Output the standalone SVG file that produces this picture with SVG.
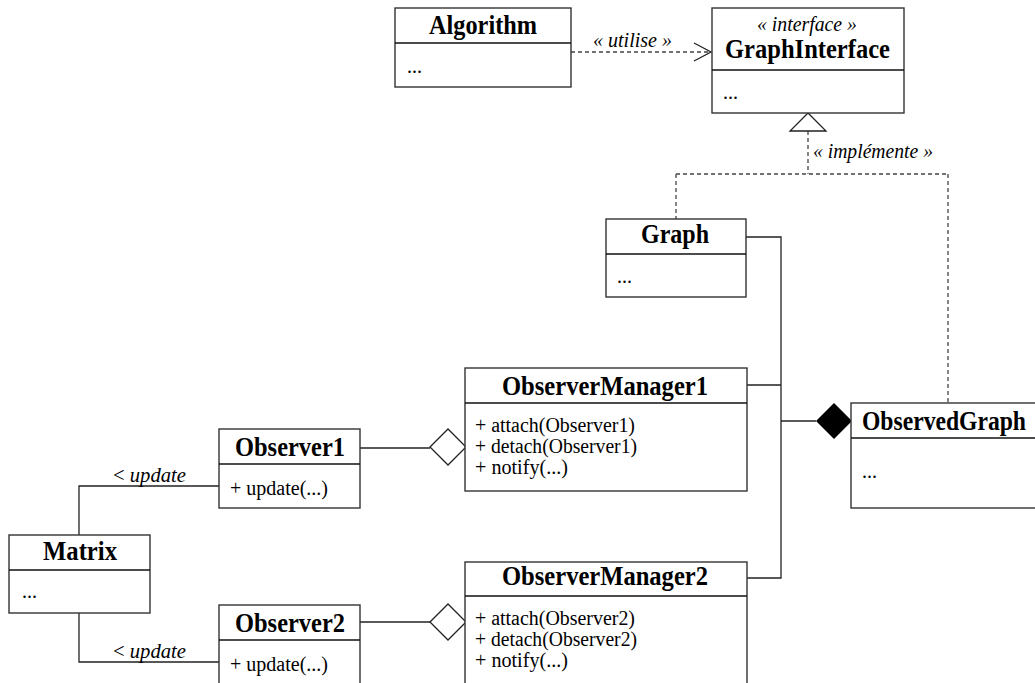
<svg xmlns="http://www.w3.org/2000/svg" width="1035" height="683" viewBox="0 0 1035 683">
<defs>
<style>
.box{fill:#fff;stroke:#333;stroke-width:1.4}
.div{stroke:#111;stroke-width:1.4}
.ln{fill:none;stroke:#222;stroke-width:1.3}
.dash{fill:none;stroke:#444;stroke-width:1.3;stroke-dasharray:4 3}
.t{font-family:"Liberation Serif","Times New Roman",serif;font-weight:bold;font-size:27px;fill:#000}
.m{font-family:"Liberation Serif","Times New Roman",serif;font-size:20px;fill:#000}
.i{font-family:"Liberation Serif","Times New Roman",serif;font-style:italic;font-size:20px;fill:#000}
</style>
</defs>
<rect width="1035" height="683" fill="#fff"/>
<g id="connectors">
<path class="dash" d="M571 52 H711"/>
<path class="ln" d="M694 43 L711 52 L694 61"/>
<text class="i" x="593" y="47" textLength="79" lengthAdjust="spacingAndGlyphs">« utilise »</text>
<path class="dash" d="M808 131 V174 M676 174 H948 M676 174 V219 M948 174 V403"/>
<polygon points="808,113 790,131 826,131" fill="#fff" stroke="#222" stroke-width="1.3"/>
<text class="i" x="813" y="158" textLength="120" lengthAdjust="spacingAndGlyphs">« implémente »</text>
<path class="ln" d="M746 237 H781 V578 H747 M747 385 H781"/>
<path class="ln" d="M781 421 H816" stroke-width="2"/>
<polygon points="816,421 834,403 852,421 834,439" fill="#000"/>
<path class="ln" d="M360 448 H430"/>
<polygon points="430,447 448,429 466,447 448,465" fill="#fff" stroke="#222" stroke-width="1.3"/>
<path class="ln" d="M360 622 H430"/>
<polygon points="430,622 448,604 466,622 448,640" fill="#fff" stroke="#222" stroke-width="1.3"/>
<path class="ln" d="M79 535 V486 H219"/>
<text class="i" x="113" y="482" textLength="73" lengthAdjust="spacingAndGlyphs"><tspan font-style="normal">&lt;</tspan> update</text>
<path class="ln" d="M79 613 V662 H219"/>
<text class="i" x="113" y="658" textLength="73" lengthAdjust="spacingAndGlyphs"><tspan font-style="normal">&lt;</tspan> update</text>
</g>
<g id="Algorithm">
<rect class="box" x="395" y="8" width="176" height="79"/>
<line class="div" x1="395" y1="43" x2="571" y2="43"/>
<text class="t" x="429" y="34" textLength="108" lengthAdjust="spacingAndGlyphs">Algorithm</text>
<text class="m" x="407" y="73">...</text>
</g>
<g id="GraphInterface">
<rect class="box" x="712" y="8" width="192" height="105"/>
<line class="div" x1="712" y1="70" x2="904" y2="70"/>
<text class="i" x="757" y="31" textLength="100" lengthAdjust="spacingAndGlyphs">« interface »</text>
<text class="t" x="725" y="58" textLength="165" lengthAdjust="spacingAndGlyphs">GraphInterface</text>
<text class="m" x="723" y="99">...</text>
</g>
<g id="Graph">
<rect class="box" x="606" y="219" width="140" height="78"/>
<line class="div" x1="606" y1="254" x2="746" y2="254"/>
<text class="t" x="641" y="243" textLength="68" lengthAdjust="spacingAndGlyphs">Graph</text>
<text class="m" x="617" y="283">...</text>
</g>
<g id="ObserverManager1">
<rect class="box" x="465" y="368" width="282" height="123"/>
<line class="div" x1="465" y1="403" x2="747" y2="403"/>
<text class="t" x="502" y="395" textLength="206" lengthAdjust="spacingAndGlyphs">ObserverManager1</text>
<text class="m" x="475" y="432" textLength="160" lengthAdjust="spacingAndGlyphs">+ attach(Observer1)</text>
<text class="m" x="475" y="453" textLength="162" lengthAdjust="spacingAndGlyphs">+ detach(Observer1)</text>
<text class="m" x="475" y="474" textLength="93" lengthAdjust="spacingAndGlyphs">+ notify(...)</text>
</g>
<g id="ObservedGraph">
<rect class="box" x="851" y="403" width="200" height="105"/>
<line class="div" x1="851" y1="438" x2="1040" y2="438"/>
<text class="t" x="862" y="430" textLength="164" lengthAdjust="spacingAndGlyphs">ObservedGraph</text>
<text class="m" x="862" y="478">...</text>
</g>
<g id="Observer1">
<rect class="box" x="219" y="429" width="141" height="79"/>
<line class="div" x1="219" y1="464" x2="360" y2="464"/>
<text class="t" x="235" y="456" textLength="110" lengthAdjust="spacingAndGlyphs">Observer1</text>
<text class="m" x="230" y="495" textLength="98" lengthAdjust="spacingAndGlyphs">+ update(...)</text>
</g>
<g id="Matrix">
<rect class="box" x="9" y="535" width="141" height="78"/>
<line class="div" x1="9" y1="570" x2="150" y2="570"/>
<text class="t" x="43" y="560" textLength="74" lengthAdjust="spacingAndGlyphs">Matrix</text>
<text class="m" x="22" y="598">...</text>
</g>
<g id="Observer2">
<rect class="box" x="219" y="605" width="141" height="90"/>
<line class="div" x1="219" y1="640" x2="360" y2="640"/>
<text class="t" x="235" y="632" textLength="110" lengthAdjust="spacingAndGlyphs">Observer2</text>
<text class="m" x="230" y="671" textLength="98" lengthAdjust="spacingAndGlyphs">+ update(...)</text>
</g>
<g id="ObserverManager2">
<rect class="box" x="465" y="562" width="282" height="130"/>
<line class="div" x1="465" y1="596" x2="747" y2="596"/>
<text class="t" x="502" y="585" textLength="206" lengthAdjust="spacingAndGlyphs">ObserverManager2</text>
<text class="m" x="475" y="625" textLength="160" lengthAdjust="spacingAndGlyphs">+ attach(Observer2)</text>
<text class="m" x="475" y="646" textLength="162" lengthAdjust="spacingAndGlyphs">+ detach(Observer2)</text>
<text class="m" x="475" y="667" textLength="93" lengthAdjust="spacingAndGlyphs">+ notify(...)</text>
</g>
</svg>
